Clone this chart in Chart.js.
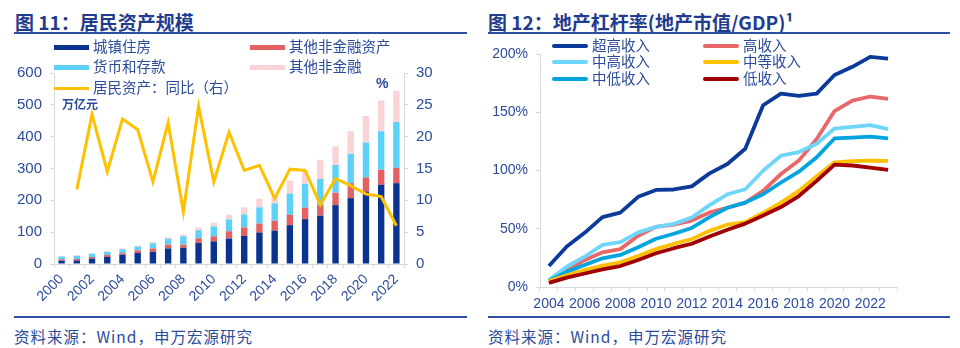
<!DOCTYPE html>
<html>
<head>
<meta charset="utf-8">
<script src="https://cdn.jsdelivr.net/npm/chart.js@4.4.1/dist/chart.umd.min.js"></script>
<style>
  body { margin: 0; background: #fff; width: 960px; height: 348px; overflow: hidden; position: relative;
         font-family: "Liberation Sans", "Noto Sans CJK SC", sans-serif; color: #2B4B9B; }
  .title { position: absolute; top: 8px; font-family: "Noto Sans CJK SC", sans-serif; font-weight: bold;
           font-size: 19px; color: #1F3C8E; white-space: nowrap; }
  .rule { position: absolute; height: 2px; background: #2E4EA3; }
  .src { position: absolute; top: 325px; font-family: "Noto Sans CJK SC", sans-serif; font-size: 15.5px;
         color: #2B4B9B; white-space: nowrap; letter-spacing: 1px; }
  .lg { position: absolute; font-family: "Noto Sans CJK SC", sans-serif; font-size: 14.5px; color: #2B4B9B;
        white-space: nowrap; line-height: 18px; }
  .sw { position: absolute; }
  canvas { position: absolute; top: 0; }
</style>
</head>
<body>

<div class="title" style="left:15px">图 11：居民资产规模</div>
<div class="title" style="left:488px">图 12：地产杠杆率(地产市值/GDP)¹</div>
<div class="rule" style="left:14px; top:32px; width:453px"></div>
<div class="rule" style="left:488px; top:32px; width:462px"></div>
<div class="rule" style="left:14px; top:316px; width:453px"></div>
<div class="rule" style="left:488px; top:316px; width:462px"></div>
<div class="src" style="left:14px">资料来源：Wind，申万宏源研究</div>
<div class="src" style="left:488px">资料来源：Wind，申万宏源研究</div>

<canvas id="assetChart" width="480" height="310" style="left:0"></canvas>
<canvas id="leverChart" width="480" height="320" style="left:480px"></canvas>

<div id="legend1"></div>
<div id="legend2"></div>

<div class="lg" style="left:62px; top:95px; font-size:12px; font-weight:bold">万亿元</div>
<div class="lg" style="left:376px; top:74px; font-size:14px; font-weight:bold; font-family:'Liberation Sans'">%</div>

<script>
// --- Daten: Haushaltsvermögen (万亿元) ---
const jahre1 = ["2000","2001","2002","2003","2004","2005","2006","2007","2008","2009","2010","2011",
                "2012","2013","2014","2015","2016","2017","2018","2019","2020","2021","2022"];
const wohnen = [10.6, 11, 17, 22, 29, 35, 38, 49, 51, 66, 71, 80, 88, 99, 105, 122, 141, 152, 185, 207, 228, 249, 254];
const sonstNichtFin = [4.3, 5, 5, 6, 5, 8, 11, 12, 10, 15, 16, 23, 27, 28, 31, 33, 36, 33, 39, 47, 44, 47, 48];
const einlagen = [8.5, 9.5, 10, 10, 12, 12, 16, 18, 26, 25, 31, 37, 41, 51, 55, 66, 75, 82, 87, 92, 110, 121, 144];
const sonstFin = [2.1, 2.2, 2, 2, 3, 3, 4, 5, 6, 9, 12, 15, 22, 27, 23, 41, 39, 60, 59, 71, 83, 97, 98];
const wachstum = [null, 11.7, 23.5, 14.5, 22.8, 21.1, 12.9, 22.2, 8.2, 24.8, 12.9, 20.7,
                  14.7, 15.5, 10.3, 14.9, 14.7, 9.3, 13.4, 12.3, 11.0, 10.6, 6.0];
const linksTicks = [0, 100, 200, 300, 400, 500, 600];
const rechtsTicks = [0, 5, 10, 15, 20, 25, 30];

// --- Daten: Immobilien-Hebel (%) ---
const jahre2 = ["2004","2005","2006","2007","2008","2009","2010","2011","2012","2013",
                "2014","2015","2016","2017","2018","2019","2020","2021","2022","2023"];
const superHoch = [18, 34.7, 46.5, 60, 63.8, 77.4, 83.3, 83.7, 86.4, 97.5, 105.6, 118.7, 156, 166, 164, 166, 182, 189, 197.5, 196];
const hoch = [5.5, 14.5, 23, 29.8, 32.5, 44, 51.6, 53.5, 57, 64, 68, 72.4, 82.5, 97, 108.5, 127, 151, 160, 163.5, 161.5];
const mittelHoch = [6, 17.4, 26, 36.2, 38.5, 46.9, 51.6, 54.2, 59.6, 70.3, 79.6, 83.9, 99.8, 112.8, 115.8, 123, 136, 137.5, 139, 135.5];
const mittel = [5, 10.1, 14.5, 18.3, 21.2, 26.6, 32.5, 37.1, 41.1, 48.2, 53.6, 55.6, 63.7, 72.4, 82.5, 95, 107, 108, 108.5, 108.3];
const mittelNiedrig = [5.5, 13, 18.8, 24.6, 27.5, 34.2, 41.4, 45.7, 50.7, 60, 68, 72.4, 79.6, 89.7, 99, 111.4, 127.5, 128.3, 129, 127.5];
const niedrig = [3.5, 8.1, 11.6, 15.1, 18, 23.2, 29, 33.3, 37.1, 43.4, 49.2, 54.4, 61.4, 68.6, 78.1, 91.1, 105, 104.3, 102.5, 100.5];
const hebelTicks = [0, 50, 100, 150, 200];

const tickFarbe = "#2B4B9B";
const achsenFarbe = "#D9D9D9";

// --- Legende als HTML ---
function legendeBauen(id, eintraege) {
    const box = document.getElementById(id);
    eintraege.forEach(e => {
        const sw = document.createElement("div");
        sw.className = "sw";
        sw.style.left = e.x + "px";
        sw.style.top = (e.y - e.h / 2) + "px";
        sw.style.width = e.w + "px";
        sw.style.height = e.h + "px";
        sw.style.background = e.farbe;
        if (e.rund) sw.style.borderRadius = (e.h / 2) + "px";
        box.appendChild(sw);
        const t = document.createElement("div");
        t.className = "lg";
        t.style.left = (e.x + e.w + 4) + "px";
        t.style.top = (e.y - 10) + "px";
        t.textContent = e.text;
        box.appendChild(t);
    });
}

legendeBauen("legend1", [
    { x: 54, y: 47, w: 35, h: 5, farbe: "#0A3390", text: "城镇住房" },
    { x: 250, y: 47, w: 35, h: 5, farbe: "#E46161", text: "其他非金融资产" },
    { x: 54, y: 67, w: 35, h: 5, farbe: "#5DD2F8", text: "货币和存款" },
    { x: 250, y: 67, w: 35, h: 5, farbe: "#F9D3D6", text: "其他非金融" },
    { x: 54, y: 88, w: 35, h: 3, farbe: "#FFC000", text: "居民资产：同比（右）" }
]);

legendeBauen("legend2", [
    { x: 552, y: 46, w: 36, h: 4, farbe: "#0B3A99", text: "超高收入", rund: true },
    { x: 703, y: 46, w: 36, h: 4, farbe: "#E8686A", text: "高收入", rund: true },
    { x: 552, y: 62, w: 36, h: 4, farbe: "#6ED6FA", text: "中高收入", rund: true },
    { x: 703, y: 62, w: 36, h: 4, farbe: "#FFC000", text: "中等收入", rund: true },
    { x: 552, y: 79, w: 36, h: 4, farbe: "#00A5E0", text: "中低收入", rund: true },
    { x: 703, y: 79, w: 36, h: 4, farbe: "#A00000", text: "低收入", rund: true }
]);

// --- Chart 1: Haushaltsvermögen ---
function balken(label, daten, farbe) {
    return {
        type: "bar", label: label, data: daten, backgroundColor: farbe,
        stack: "s", yAxisID: "y", order: 1,
        barPercentage: 0.42, categoryPercentage: 1
    };
}

new Chart(document.getElementById("assetChart"), {
    type: "bar",
    data: {
        labels: jahre1,
        datasets: [
            balken("城镇住房", wohnen, "#0A3390"),
            balken("其他非金融资产", sonstNichtFin, "#E46161"),
            balken("货币和存款", einlagen, "#5DD2F8"),
            balken("其他非金融", sonstFin, "#F9D3D6"),
            {
                type: "line", label: "居民资产：同比（右）", data: wachstum, yAxisID: "y1", order: 0,
                borderColor: "#FFC000", borderWidth: 3, pointRadius: 0, tension: 0, spanGaps: false
            }
        ]
    },
    options: {
        responsive: false,
        devicePixelRatio: 1,
        animation: false,
        layout: { padding: { top: 73, left: 0, right: 0, bottom: 0 } },
        plugins: { legend: { display: false }, tooltip: { enabled: false } },
        scales: {
            x: {
                stacked: true,
                offset: true,
                grid: { display: true, drawOnChartArea: false, tickLength: 4, color: achsenFarbe, offset: true },
                border: { color: achsenFarbe },
                ticks: {
                    autoSkip: false, maxRotation: 45, minRotation: 45, padding: 3,
                    color: tickFarbe, font: { family: "Liberation Sans", size: 14 },
                    callback: (v, i) => (i % 2 === 0 ? jahre1[i] : "")
                },
                afterFit: s => { s.height = 46; }
            },
            y: {
                stacked: true, position: "left", min: 0, max: 600,
                afterBuildTicks: s => { s.ticks = linksTicks.map(v => ({ value: v })); },
                grid: { drawOnChartArea: false, tickLength: 4, color: achsenFarbe },
                border: { color: achsenFarbe },
                ticks: { padding: 8, color: tickFarbe, font: { family: "Liberation Sans", size: 15 } },
                afterFit: s => { s.width = 54; }
            },
            y1: {
                position: "right", min: 0, max: 30,
                afterBuildTicks: s => { s.ticks = rechtsTicks.map(v => ({ value: v })); },
                grid: { drawOnChartArea: false, tickLength: 4, color: achsenFarbe },
                border: { color: achsenFarbe },
                ticks: { padding: 8, color: tickFarbe, font: { family: "Liberation Sans", size: 15 } },
                afterFit: s => { s.width = 76; }
            }
        }
    }
});

// --- Chart 2: Immobilien-Hebel ---
function linie(label, daten, farbe) {
    return {
        label: label, data: daten, borderColor: farbe, backgroundColor: farbe,
        borderWidth: 3.8, pointRadius: 0, tension: 0, borderJoinStyle: "round"
    };
}

new Chart(document.getElementById("leverChart"), {
    type: "line",
    data: {
        labels: jahre2,
        datasets: [
            linie("低收入", niedrig, "#A00000"),
            linie("中等收入", mittel, "#FFC000"),
            linie("中低收入", mittelNiedrig, "#00A5E0"),
            linie("中高收入", mittelHoch, "#6ED6FA"),
            linie("高收入", hoch, "#E8686A"),
            linie("超高收入", superHoch, "#0B3A99")
        ]
    },
    options: {
        responsive: false,
        devicePixelRatio: 1,
        animation: false,
        layout: { padding: { top: 54, left: 0, right: 63, bottom: 0 } },
        plugins: { legend: { display: false }, tooltip: { enabled: false } },
        scales: {
            x: {
                offset: true,
                grid: { display: true, drawOnChartArea: false, tickLength: 4, color: achsenFarbe, offset: true },
                border: { color: achsenFarbe },
                ticks: {
                    autoSkip: false, maxRotation: 0, minRotation: 0, padding: 5,
                    color: tickFarbe, font: { family: "Liberation Sans", size: 14 },
                    callback: (v, i) => (i % 2 === 0 ? jahre2[i] : "")
                },
                afterFit: s => { s.height = 33; }
            },
            y: {
                min: 0, max: 200,
                afterBuildTicks: s => { s.ticks = hebelTicks.map(v => ({ value: v })); },
                grid: { drawOnChartArea: false, tickLength: 4, color: achsenFarbe },
                border: { color: achsenFarbe },
                ticks: {
                    padding: 8, color: tickFarbe, font: { family: "Liberation Sans", size: 14 },
                    callback: v => v + "%"
                },
                afterFit: s => { s.width = 60; }
            }
        }
    }
});
</script>
</body>
</html>
